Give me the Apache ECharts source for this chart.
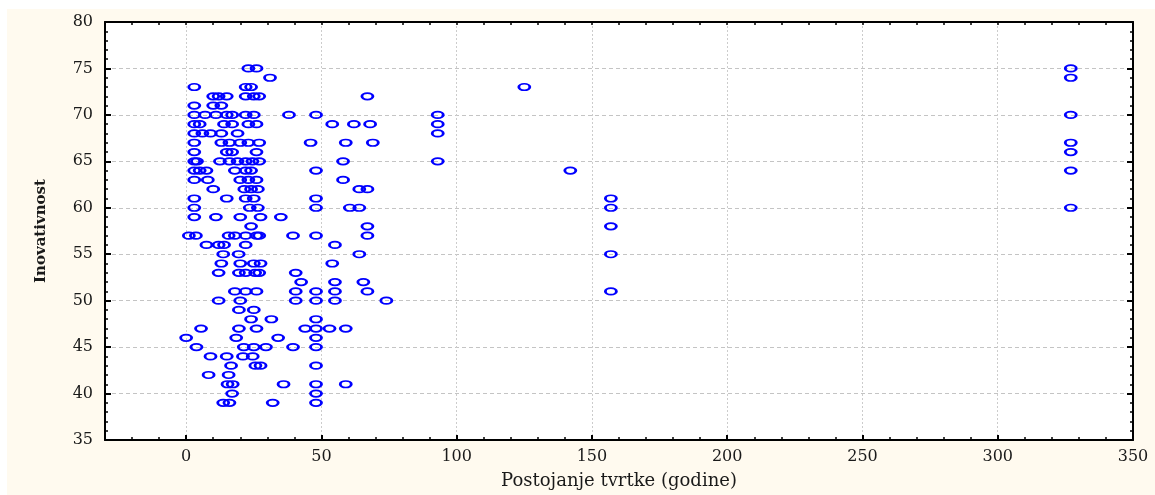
<!DOCTYPE html>
<html>
<head>
<meta charset="utf-8">
<script src="https://cdn.jsdelivr.net/npm/echarts@6/dist/echarts.min.js"></script>
<style>
html,body{margin:0;padding:0;background:#ffffff;width:1155px;height:495px;overflow:hidden;}
#chart{position:absolute;left:7px;top:9px;width:1148px;height:486px;}
</style>
</head>
<body>
<div id="chart"></div>
<script>
// Innovation score levels (y) and the firm ages (x, years) observed at each level
const innovationLevels = [75,74,73,72,71,70,69,68,67,66,65,64,63,62,61,60,59,58,57,56,55,54,53,52,51,50,49,48,47,46,45,44,43,42,41,40,39];
const yearsAtLevel = [
  [23,26,327],
  [31,327],
  [3,22,24,125],
  [10,12,15,22,25,27,67],
  [3,10,13],
  [3,7,11,15,17,22,25,38,48,93,327],
  [3,5,14,17,23,26,54,62,68,93],
  [3,6,9,13,19,93],
  [3,13,16,20,23,27,46,59,69,327],
  [3,15,17,26,327],
  [3,4,12.5,16,19,22,24.5,27,58,93],
  [3,5,7.5,18,22,24,48,142,327],
  [3,8,20,23,26,58],
  [10,21.5,24,26.5,64,67],
  [3,15,22,25,48,157],
  [3,23.5,26.5,48,60.5,64,157,327],
  [3,11,20,27.5,35],
  [24,67,157],
  [1,3.6,15.7,18,22,26,27,39.5,48,67],
  [7.5,12,14,22,55],
  [13.7,19.4,64,157],
  [13,20,25,27.5,54],
  [12,19.5,22,25.5,27,40.5],
  [42.5,55,65.5],
  [18,22,26,40.5,48,55,67,157],
  [12,20,40.5,48,55,74],
  [19.5,25],
  [24,31.5,48],
  [5.5,19.5,26,44,48,53,59],
  [0,18.5,34,48],
  [3.8,21.3,25,29.5,39.5,48],
  [9,15,21,24.6],
  [16.6,25.6,27.5,48],
  [8.3,15.7],
  [15.3,17.2,36,48,59],
  [17,48],
  [13.7,16,32,48]
];
const xTickLabels = [0,50,100,150,200,250,300,350];
const xTitle = 'Postojanje tvrtke (godine)';
const yTitle = 'Inovativnost';

const points = [];
innovationLevels.forEach((lvl, i) => {
  yearsAtLevel[i].forEach(yr => points.push([yr, lvl]));
});

const serif = 'DejaVu Serif';
const black = '#000000';
const axisLineStyle = {color: black, width: 2};

const chart = echarts.init(document.getElementById('chart'), null, {renderer: 'canvas'});
chart.setOption({
  backgroundColor: '#fffaef',
  animation: false,
  grid: {left: 98, top: 13, width: 1028, height: 419, show: true, backgroundColor: '#ffffff', borderWidth: 0},
  xAxis: [
    {
      type: 'value', position: 'bottom', min: -30, max: 350,
      axisLine: {show: true, onZero: false, lineStyle: axisLineStyle},
      axisTick: {show: true, inside: true, length: 5, customValues: xTickLabels, lineStyle: {color: black, width: 2}},
      axisLabel: {customValues: xTickLabels, fontFamily: serif, fontSize: 16, color: '#1a1a1a', margin: 9},
      splitLine: {show: true, lineStyle: {color: '#cccccc', type: [2, 2], width: 1}},
      name: xTitle, nameLocation: 'middle', nameGap: 32,
      nameTextStyle: {fontFamily: serif, fontSize: 18, color: '#1a1a1a'}
    },
    {
      type: 'value', position: 'top', min: -30, max: 350, interval: 10,
      axisLine: {show: true, onZero: false, lineStyle: axisLineStyle},
      axisTick: {show: true, inside: true, length: 3, lineStyle: {color: black, width: 1.5}},
      axisLabel: {show: false}, splitLine: {show: false}
    },
    {
      type: 'value', position: 'bottom', min: -30, max: 350, interval: 10,
      axisLine: {show: false, onZero: false},
      axisTick: {show: true, inside: true, length: 3, lineStyle: {color: black, width: 1.5}},
      axisLabel: {show: false}, splitLine: {show: false}
    }
  ],
  yAxis: [
    {
      type: 'value', position: 'left', min: 35, max: 80, interval: 5,
      axisLine: {show: true, onZero: false, lineStyle: axisLineStyle},
      axisTick: {show: true, inside: true, length: 6, lineStyle: {color: black, width: 2}},
      minorTick: {show: true, splitNumber: 5, length: 3, lineStyle: {color: black, width: 1.5}},
      axisLabel: {fontFamily: serif, fontSize: 16, color: '#1a1a1a', margin: 12},
      splitLine: {show: true, lineStyle: {color: '#c4c4c4', type: [4, 3], width: 1}},
      name: yTitle, nameLocation: 'middle', nameGap: 56, nameRotate: 90,
      nameTextStyle: {fontFamily: serif, fontSize: 15, fontWeight: 'bold', color: '#1a1a1a'}
    },
    {
      type: 'value', position: 'right', min: 35, max: 80, interval: 5,
      axisLine: {show: true, onZero: false, lineStyle: axisLineStyle},
      axisTick: {show: true, inside: true, length: 6, lineStyle: {color: black, width: 2}},
      minorTick: {show: true, splitNumber: 5, length: 3, lineStyle: {color: black, width: 1.5}},
      axisLabel: {show: false}, splitLine: {show: false}
    }
  ],
  series: [{
    type: 'scatter',
    xAxisIndex: 0, yAxisIndex: 0,
    data: points,
    symbol: 'path://M0,3a5,3 0 1,0 10,0a5,3 0 1,0 -10,0z',
    symbolSize: [11, 6.5],
    itemStyle: {color: 'rgba(0,0,0,0)', borderColor: '#0000ff', borderWidth: 2.2, opacity: 1},
    emphasis: {disabled: true},
    silent: true
  }]
});
</script>
</body>
</html>
